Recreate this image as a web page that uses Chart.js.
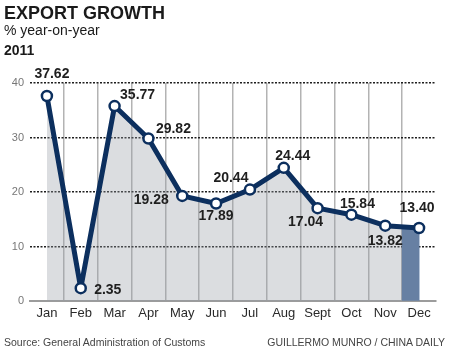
<!DOCTYPE html>
<html>
<head>
<meta charset="utf-8">
<script src="https://cdn.jsdelivr.net/npm/chart.js@4.4.1/dist/chart.umd.min.js"></script>
<style>
  body { margin: 0; background: #fff; width: 450px; height: 354px; overflow: hidden; position: relative;
         font-family: "Liberation Sans", Arial, sans-serif; }
  #chart { position: absolute; left: 0; top: 0; }
  .txt { position: absolute; white-space: nowrap; line-height: 1; color: #1a1a1a; }
</style>
</head>
<body>
<canvas id="chart" width="450" height="354"></canvas>
<div class="txt" style="left:4px;top:4px;font-size:18px;font-weight:bold;">EXPORT GROWTH</div>
<div class="txt" style="left:4px;top:23px;font-size:14px;">% year-on-year</div>
<div class="txt" style="left:4px;top:43px;font-size:14px;font-weight:bold;">2011</div>
<div class="txt" style="left:4px;top:337px;font-size:10.5px;color:#444;">Source: General Administration of Customs</div>
<div class="txt" style="right:5px;top:337px;font-size:10.5px;color:#444;">GUILLERMO MUNRO / CHINA DAILY</div>
<script>
const months = ["Jan", "Feb", "Mar", "Apr", "May", "Jun", "Jul", "Aug", "Sept", "Oct", "Nov", "Dec"];
const growth = [37.62, 2.35, 35.77, 29.82, 19.28, 17.89, 20.44, 24.44, 17.04, 15.84, 13.82, 13.40];
const yTicks = [0, 10, 20, 30, 40];

// latest month gets the blue band
const latest = growth.map((v, i) => (i === growth.length - 1 ? v : null));
const spacer = growth.map(() => null);

const navy = "#0c2f5e";

// where each value label sits relative to its point
const valueLabels = {
  id: "valueLabels",
  afterDatasetsDraw(chart) {
    const offsets = [[5, -22], [27, 2], [23, -11], [25, -9], [-31, 4], [0, 13],
                     [-19, -11], [9, -12], [-12, 14], [6, -11], [0, 15], [-2, -20]];
    const meta = chart.getDatasetMeta(0);
    const ctx = chart.ctx;
    ctx.save();
    ctx.font = 'bold 14px "Liberation Sans", Arial, sans-serif';
    ctx.fillStyle = "#1f1f1f";
    ctx.textAlign = "center";
    ctx.textBaseline = "middle";
    meta.data.forEach((pt, i) => {
      const [dx, dy] = offsets[i];
      ctx.fillText(growth[i].toFixed(2), pt.x + dx, pt.y + dy);
    });
    ctx.restore();
  }
};

new Chart(document.getElementById("chart"), {
  type: "bar",
  data: {
    labels: months,
    datasets: [
      {
        type: "line",
        data: growth,
        order: 0,
        borderColor: navy,
        borderWidth: 5,
        borderJoinStyle: "round",
        borderCapStyle: "round",
        fill: "origin",
        backgroundColor: "rgba(150, 155, 165, 0.34)",
        pointRadius: 5,
        pointBorderWidth: 2.5,
        pointBackgroundColor: "#fff",
        pointBorderColor: navy,
        tension: 0
      },
      {
        data: latest,
        order: 1,
        backgroundColor: "#4f73a3",
        barPercentage: 1,
        categoryPercentage: 1
      },
      {
        data: spacer,
        order: 1,
        barPercentage: 1,
        categoryPercentage: 1
      }
    ]
  },
  options: {
    responsive: false,
    animation: false,
    events: [],
    layout: { padding: { left: 0, right: 14, top: 83, bottom: 30 } },
    plugins: { legend: { display: false }, tooltip: { enabled: false } },
    scales: {
      x: {
        offset: true,
        afterFit: (s) => { s.height = 23; },
        grid: {
          drawTicks: false,
          lineWidth: 1.5,
          color: (c) => (c.type !== "tick" || c.index === 0 ? "transparent" : "#b3b3b3")
        },
        border: { display: true, color: "#9c9c9c", width: 2 },
        ticks: {
          padding: 5,
          color: "#2a2a2a",
          font: { size: 13, family: '"Liberation Sans", Arial, sans-serif' }
        }
      },
      y: {
        min: yTicks[0],
        max: yTicks[yTicks.length - 1],
        afterFit: (s) => { s.width = 30; },
        afterBuildTicks: (s) => { s.ticks = yTicks.map((v) => ({ value: v })); },
        grid: {
          drawTicks: false,
          lineWidth: 1.4,
          color: (c) => (c.tick && c.tick.value === 0 ? "transparent" : "#1e1e1e")
        },
        border: { display: false, dash: [2, 1.5] },
        ticks: {
          padding: 6,
          color: "#777",
          font: { size: 11, family: '"Liberation Sans", Arial, sans-serif' }
        }
      }
    }
  },
  plugins: [valueLabels]
});
</script>
</body>
</html>
